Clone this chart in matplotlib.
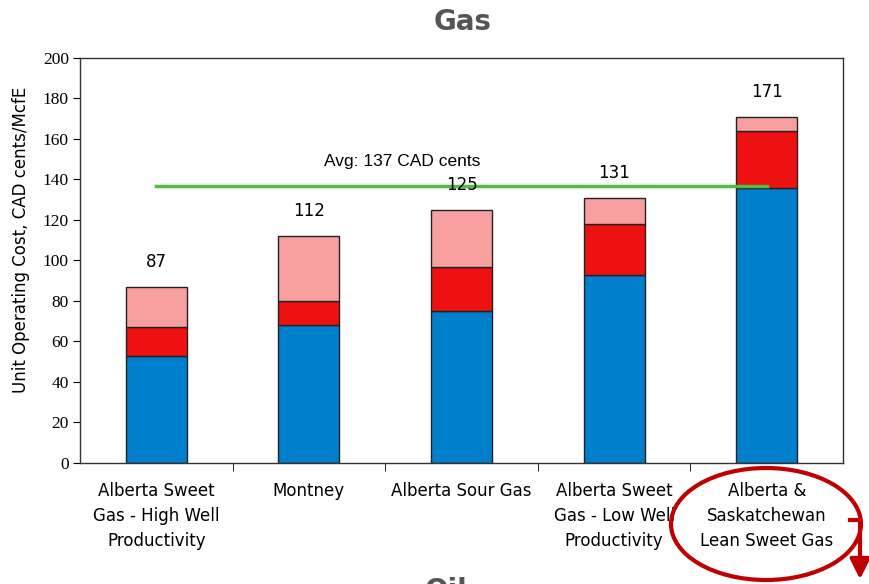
import matplotlib.pyplot as plt
from matplotlib.patches import Ellipse, FancyArrowPatch
from matplotlib.lines import Line2D

categories = ["Alberta Sweet\nGas - High Well\nProductivity", "Montney", "Alberta Sour Gas",
              "Alberta Sweet\nGas - Low Well\nProductivity", "Alberta &\nSaskatchewan\nLean Sweet Gas"]
base = [53, 68, 75, 93, 136]
middle = [14, 12, 22, 25, 28]
top = [20, 32, 28, 13, 7]
totals = [87, 112, 125, 131, 171]
avg = 137

blue, red, pink = "#0080CC", "#EE1111", "#F8A0A0"

fig = plt.figure(figsize=(8.7, 5.84), dpi=100)
ax = fig.add_axes([0.092, 0.2072, 0.877, 0.6935])
x = range(len(categories))
mid_bottom = [b for b in base]
top_bottom = [b + m for b, m in zip(base, middle)]
ax.bar(x, base, width=0.4, color=blue, edgecolor="#222222", linewidth=1)
ax.bar(x, middle, width=0.4, bottom=mid_bottom, color=red, edgecolor="#222222", linewidth=1)
ax.bar(x, top, width=0.4, bottom=top_bottom, color=pink, edgecolor="#222222", linewidth=1)

for i, t in enumerate(totals):
    ax.text(i, t + 8, str(t), ha="center", va="bottom", fontsize=12, family="DejaVu Sans")

ax.plot([0, 4], [avg, avg], color="#55BB44", linewidth=2.5)
ax.text(1.61, avg + 8, "Avg: %d CAD cents" % avg, ha="center", va="bottom", fontsize=12.5,
        family="Liberation Sans")

ax.set_xlim(-0.5, 4.5)
ax.set_ylim(0, 200)
ax.set_yticks(range(0, 201, 20))
ax.set_yticklabels([str(v) for v in range(0, 201, 20)], family="Liberation Serif", fontsize=12.5)
ax.set_xticks([i + 0.5 for i in range(4)], minor=True)
ax.set_xticks(list(x))
ax.set_xticklabels(categories, fontsize=12, family="DejaVu Sans", linespacing=1.5)
ax.tick_params(axis="x", which="major", length=0, pad=14)
ax.tick_params(axis="x", which="minor", length=6, direction="out")
ax.tick_params(axis="y", length=5, direction="out", pad=3)
for s in ax.spines.values():
    s.set_color("#333333")
    s.set_linewidth(1)
ax.set_ylabel("Unit Operating Cost, CAD cents/McfE", fontsize=12, family="DejaVu Sans")
ax.yaxis.set_label_coords(-0.066, 0.55)

fig.text(0.532, 0.963, "Gas", ha="center", va="center", fontsize=20, fontweight="bold",
         color="#555555", family="DejaVu Sans")
fig.text(0.513, -0.012, "Oil", ha="center", va="center", fontsize=20, fontweight="bold",
         color="#555555", family="DejaVu Sans")

# red callout around the last category
ell = Ellipse((766 / 870, 1 - 524 / 584), 190 / 870, 112 / 584, transform=fig.transFigure,
              fill=False, edgecolor="#C00000", linewidth=3)
fig.patches.append(ell)
fig.lines.append(Line2D([850 / 870, 860 / 870], [1 - 520 / 584, 1 - 520 / 584],
                        transform=fig.transFigure, color="#C00000", linewidth=3))
arrow = FancyArrowPatch((860 / 870, 1 - 519 / 584), (860 / 870, 1 - 582 / 584),
                        transform=fig.transFigure, arrowstyle="-|>,head_length=6,head_width=3",
                        color="#C00000", linewidth=3, mutation_scale=2)
fig.patches.append(arrow)

fig.savefig("out.png", dpi=100)
